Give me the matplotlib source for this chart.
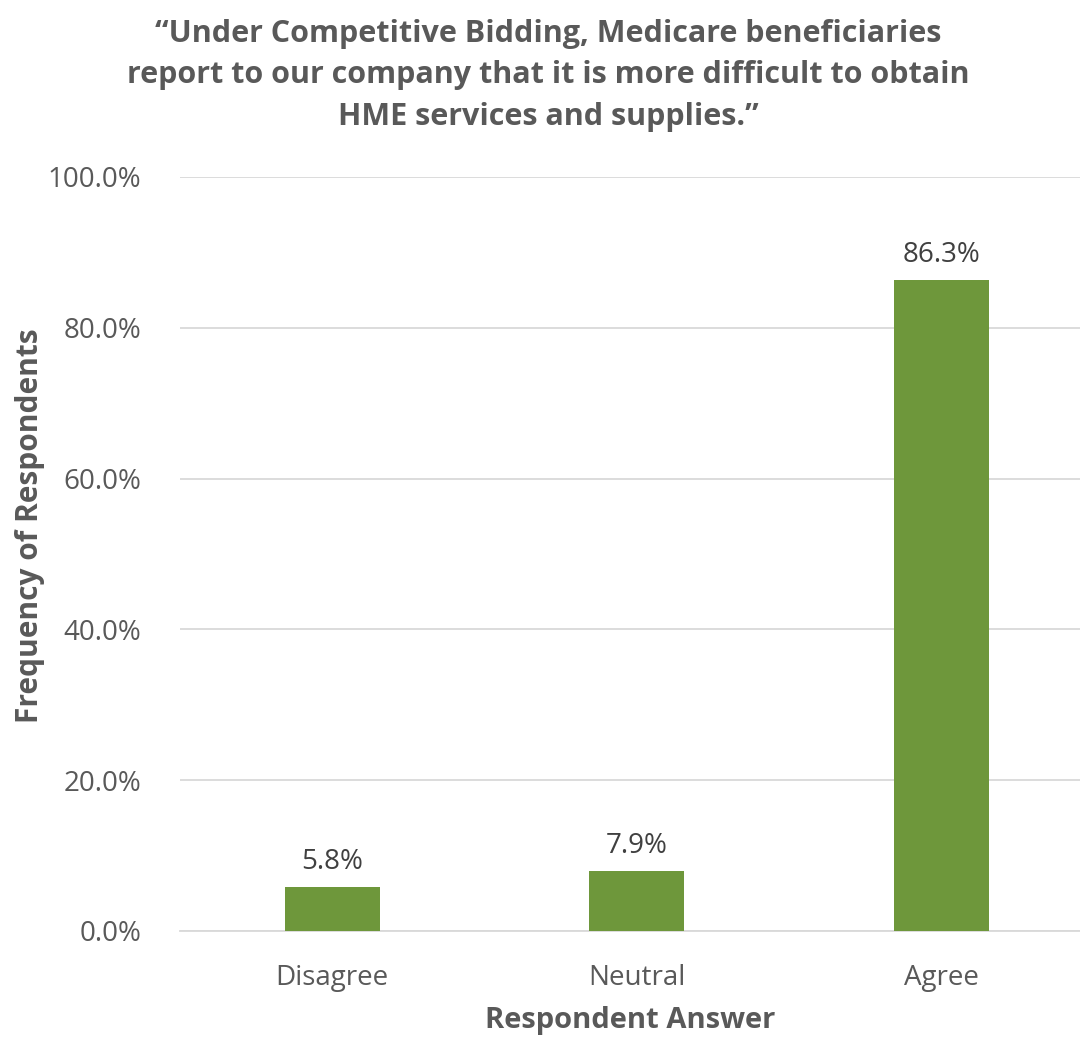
import matplotlib.pyplot as plt
from matplotlib.ticker import FuncFormatter

plt.rcParams['font.family'] = ['Open Sans', 'DejaVu Sans']

# survey answers and share of respondents (%)
answers = ['Disagree', 'Neutral', 'Agree']
shares = [5.8, 7.9, 86.3]
yticks = [0, 20, 40, 60, 80, 100]

title = ('\u201cUnder Competitive Bidding, Medicare beneficiaries\n'
         'report to our company that it is more difficult to obtain\n'
         'HME services and supplies.\u201d')

fig = plt.figure(figsize=(10.8, 10.38), dpi=100)
ax = fig.add_axes([0.1667, 0.1031, 0.8333, 0.7264])

bars = ax.bar(range(len(answers)), shares, width=0.312, color='#6E973B', zorder=3)
for b, v in zip(bars, shares):
    ax.text(b.get_x() + b.get_width() / 2, v + 1.5, f'{v:.1f}%',
            ha='center', va='bottom', fontsize=20, color='#404040')

ax.set_xlim(-0.5, 2.456)
ax.set_ylim(0, 100)
ax.set_yticks(yticks)
ax.yaxis.set_major_formatter(FuncFormatter(lambda v, p: f'{v:.1f}%'))
ax.set_xticks(range(len(answers)))
ax.set_xticklabels(answers)
ax.tick_params(length=0, labelsize=20, labelcolor='#595959')
ax.tick_params(axis='x', pad=24)
ax.tick_params(axis='y', pad=28)
ax.grid(axis='y', color='#d9d9d9', linewidth=1.3, zorder=0)
for s in ['top', 'right', 'left']:
    ax.spines[s].set_visible(False)
ax.spines['bottom'].set_color('#d9d9d9')
ax.spines['bottom'].set_linewidth(1.3)

ax.set_xlabel('Respondent Answer', fontsize=21, fontweight='bold', color='#595959', labelpad=10)
fig.text(0.028, 0.494, 'Frequency of Respondents', rotation=90, ha='center', va='center',
         fontsize=21.5, fontweight='bold', color='#595959')
fig.text(0.508, 0.982, title, ha='center', va='top', fontsize=22, fontweight='bold',
         color='#595959', linespacing=1.5)

fig.savefig('out.png')
